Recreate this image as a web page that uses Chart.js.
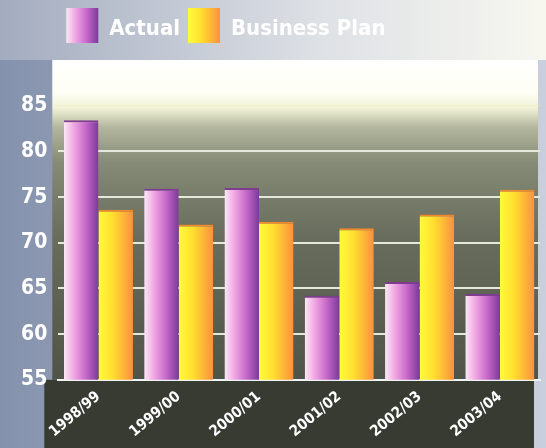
<!DOCTYPE html>
<html>
<head>
<meta charset="utf-8">
<script src="https://cdn.jsdelivr.net/npm/chart.js@4.4.1/dist/chart.umd.min.js"></script>
<style>
  html, body { margin: 0; padding: 0; background: #8c99b3; }
  #wrap { width: 546px; height: 448px; }
</style>
</head>
<body>
<div id="wrap"><canvas id="chart"></canvas></div>
<script>
// chart data
const categories = ["1998/99", "1999/00", "2000/01", "2001/02", "2002/03", "2003/04"];
const actual = [83.4, 75.9, 76.0, 64.2, 65.7, 64.4];
const businessPlan = [73.6, 72.0, 72.3, 71.6, 73.1, 75.8];
const yMin = 55;
const yMax = 90;
const yStep = 5;

const FONT = '"DejaVu Sans Condensed", "Liberation Sans", sans-serif';

// colour stops for the bar gradients (left -> right)
const actualStops = [[0, "#fbe8f5"], [0.3, "#f0a4e2"], [0.65, "#c466c8"], [1, "#7a3a9a"]];
const planStops = [[0, "#fffb3a"], [0.4, "#ffe02e"], [1, "#fb9040"]];

const hGradient = (ctx, x0, x1, stops) => {
  const g = ctx.createLinearGradient(x0, 0, x1, 0);
  stops.forEach(([o, c]) => g.addColorStop(o, c));
  return g;
};

// paints the page background, plot area and the dark label band
const backdrop = {
  id: "backdrop",
  beforeDraw(chart) {
    const { ctx, width, height, chartArea: a } = chart;
    ctx.save();
    let g = ctx.createLinearGradient(0, 0, width, 0);
    g.addColorStop(0, "#8592ad");
    g.addColorStop(0.5, "#a7b0c3");
    g.addColorStop(1, "#c9cfdc");
    ctx.fillStyle = g;
    ctx.fillRect(0, 0, width, height);

    g = ctx.createLinearGradient(0, 0, width, 0);
    g.addColorStop(0, "#a3acbf");
    g.addColorStop(0.6, "#dfe2e6");
    g.addColorStop(1, "#f7f7f0");
    ctx.fillStyle = g;
    ctx.fillRect(0, 0, width, a.top);

    // dark band under the plot
    ctx.fillStyle = "#383b32";
    ctx.fillRect(a.left - 14, a.bottom, a.right - a.left + 8, height - a.bottom);

    g = ctx.createLinearGradient(0, a.top, 0, a.bottom);
    g.addColorStop(0, "#ffffff");
    g.addColorStop(0.1, "#fefef4");
    g.addColorStop(0.15, "#f1f2d8");
    g.addColorStop(0.21, "#b3b79e");
    g.addColorStop(0.32, "#868b77");
    g.addColorStop(0.55, "#686d5d");
    g.addColorStop(1, "#4f5448");
    ctx.fillStyle = g;
    ctx.fillRect(a.left - 6, a.top, a.right - a.left + 4, a.bottom - a.top);
    ctx.restore();
  },
  beforeDatasetsDraw(chart) {
    const { ctx } = chart;
    chart.data.datasets.forEach((ds, i) => {
      const stops = i === 0 ? actualStops : planStops;
      chart.getDatasetMeta(i).data.forEach((el) => {
        const { x, width } = el.getProps(["x", "width"], true);
        el.options = Object.assign({}, el.options, {
          backgroundColor: hGradient(ctx, x - width / 2, x + width / 2, stops),
        });
      });
    });
  },
  afterDraw(chart) {
    // gradient swatches for the legend items
    const { ctx, legend } = chart;
    if (!legend || !legend.legendHitBoxes) return;
    legend.legendHitBoxes.forEach((hb, i) => {
      const stops = i === 0 ? actualStops : planStops;
      ctx.fillStyle = hGradient(ctx, hb.left, hb.left + 32, stops);
      ctx.fillRect(hb.left, hb.top, 32, 35);
    });
  },
};

new Chart(document.getElementById("chart"), {
  type: "bar",
  data: {
    labels: categories,
    datasets: [
      { label: "Actual", data: actual, backgroundColor: "#c466c8", borderColor: "#7e3c8e" },
      { label: "Business Plan", data: businessPlan, backgroundColor: "#ffe02e", borderColor: "#f0882e" },
    ],
  },
  options: {
    responsive: true,
    maintainAspectRatio: false,
    animation: false,
    layout: { padding: { left: 10, right: 6, top: 0, bottom: 7 } },
    datasets: {
      bar: {
        categoryPercentage: 0.86,
        barPercentage: 1.0,
        borderWidth: { top: 2, left: 0, right: 0, bottom: 0 },
        borderSkipped: "bottom",
      },
    },
    plugins: {
      tooltip: { enabled: false },
      legend: {
        display: true,
        position: "top",
        align: "start",
        fullSize: false,
        labels: {
          boxWidth: 32,
          boxHeight: 42,
          padding: 8,
          color: "#ffffff",
          font: { family: FONT, size: 22, weight: "bold" },
          generateLabels: (chart) =>
            chart.data.datasets.map((ds, i) => ({
              text: ds.label,
              fillStyle: "rgba(0,0,0,0)",
              strokeStyle: "rgba(0,0,0,0)",
              lineWidth: 0,
              fontColor: "#ffffff",
              datasetIndex: i,
            })),
        },
      },
    },
    scales: {
      x: {
        grid: { display: false },
        border: { display: true, color: "#eef4f4", width: 2 },
        ticks: {
          color: "#ffffff",
          minRotation: 40,
          maxRotation: 40,
          padding: 0,
          font: { family: FONT, size: 15, weight: "bold" },
        },
      },
      y: {
        min: yMin,
        max: yMax,
        border: { display: false },
        grid: {
          drawTicks: false,
          color: (c) => {
            const v = c.tick && c.tick.value;
            if (v === yMin || v === yMax) return "rgba(0,0,0,0)";
            if (v === 85) return "rgba(240,236,190,0.7)";
            return "#e6e8dc";
          },
          lineWidth: (c) => (c.tick && c.tick.value === 85 ? 1 : 2),
        },
        ticks: {
          stepSize: yStep,
          color: "#ffffff",
          padding: 11,
          font: { family: FONT, size: 21, weight: "bold" },
          callback: (v) => (v === yMax ? "" : v),
        },
      },
    },
  },
  plugins: [backdrop],
});
</script>
</body>
</html>
